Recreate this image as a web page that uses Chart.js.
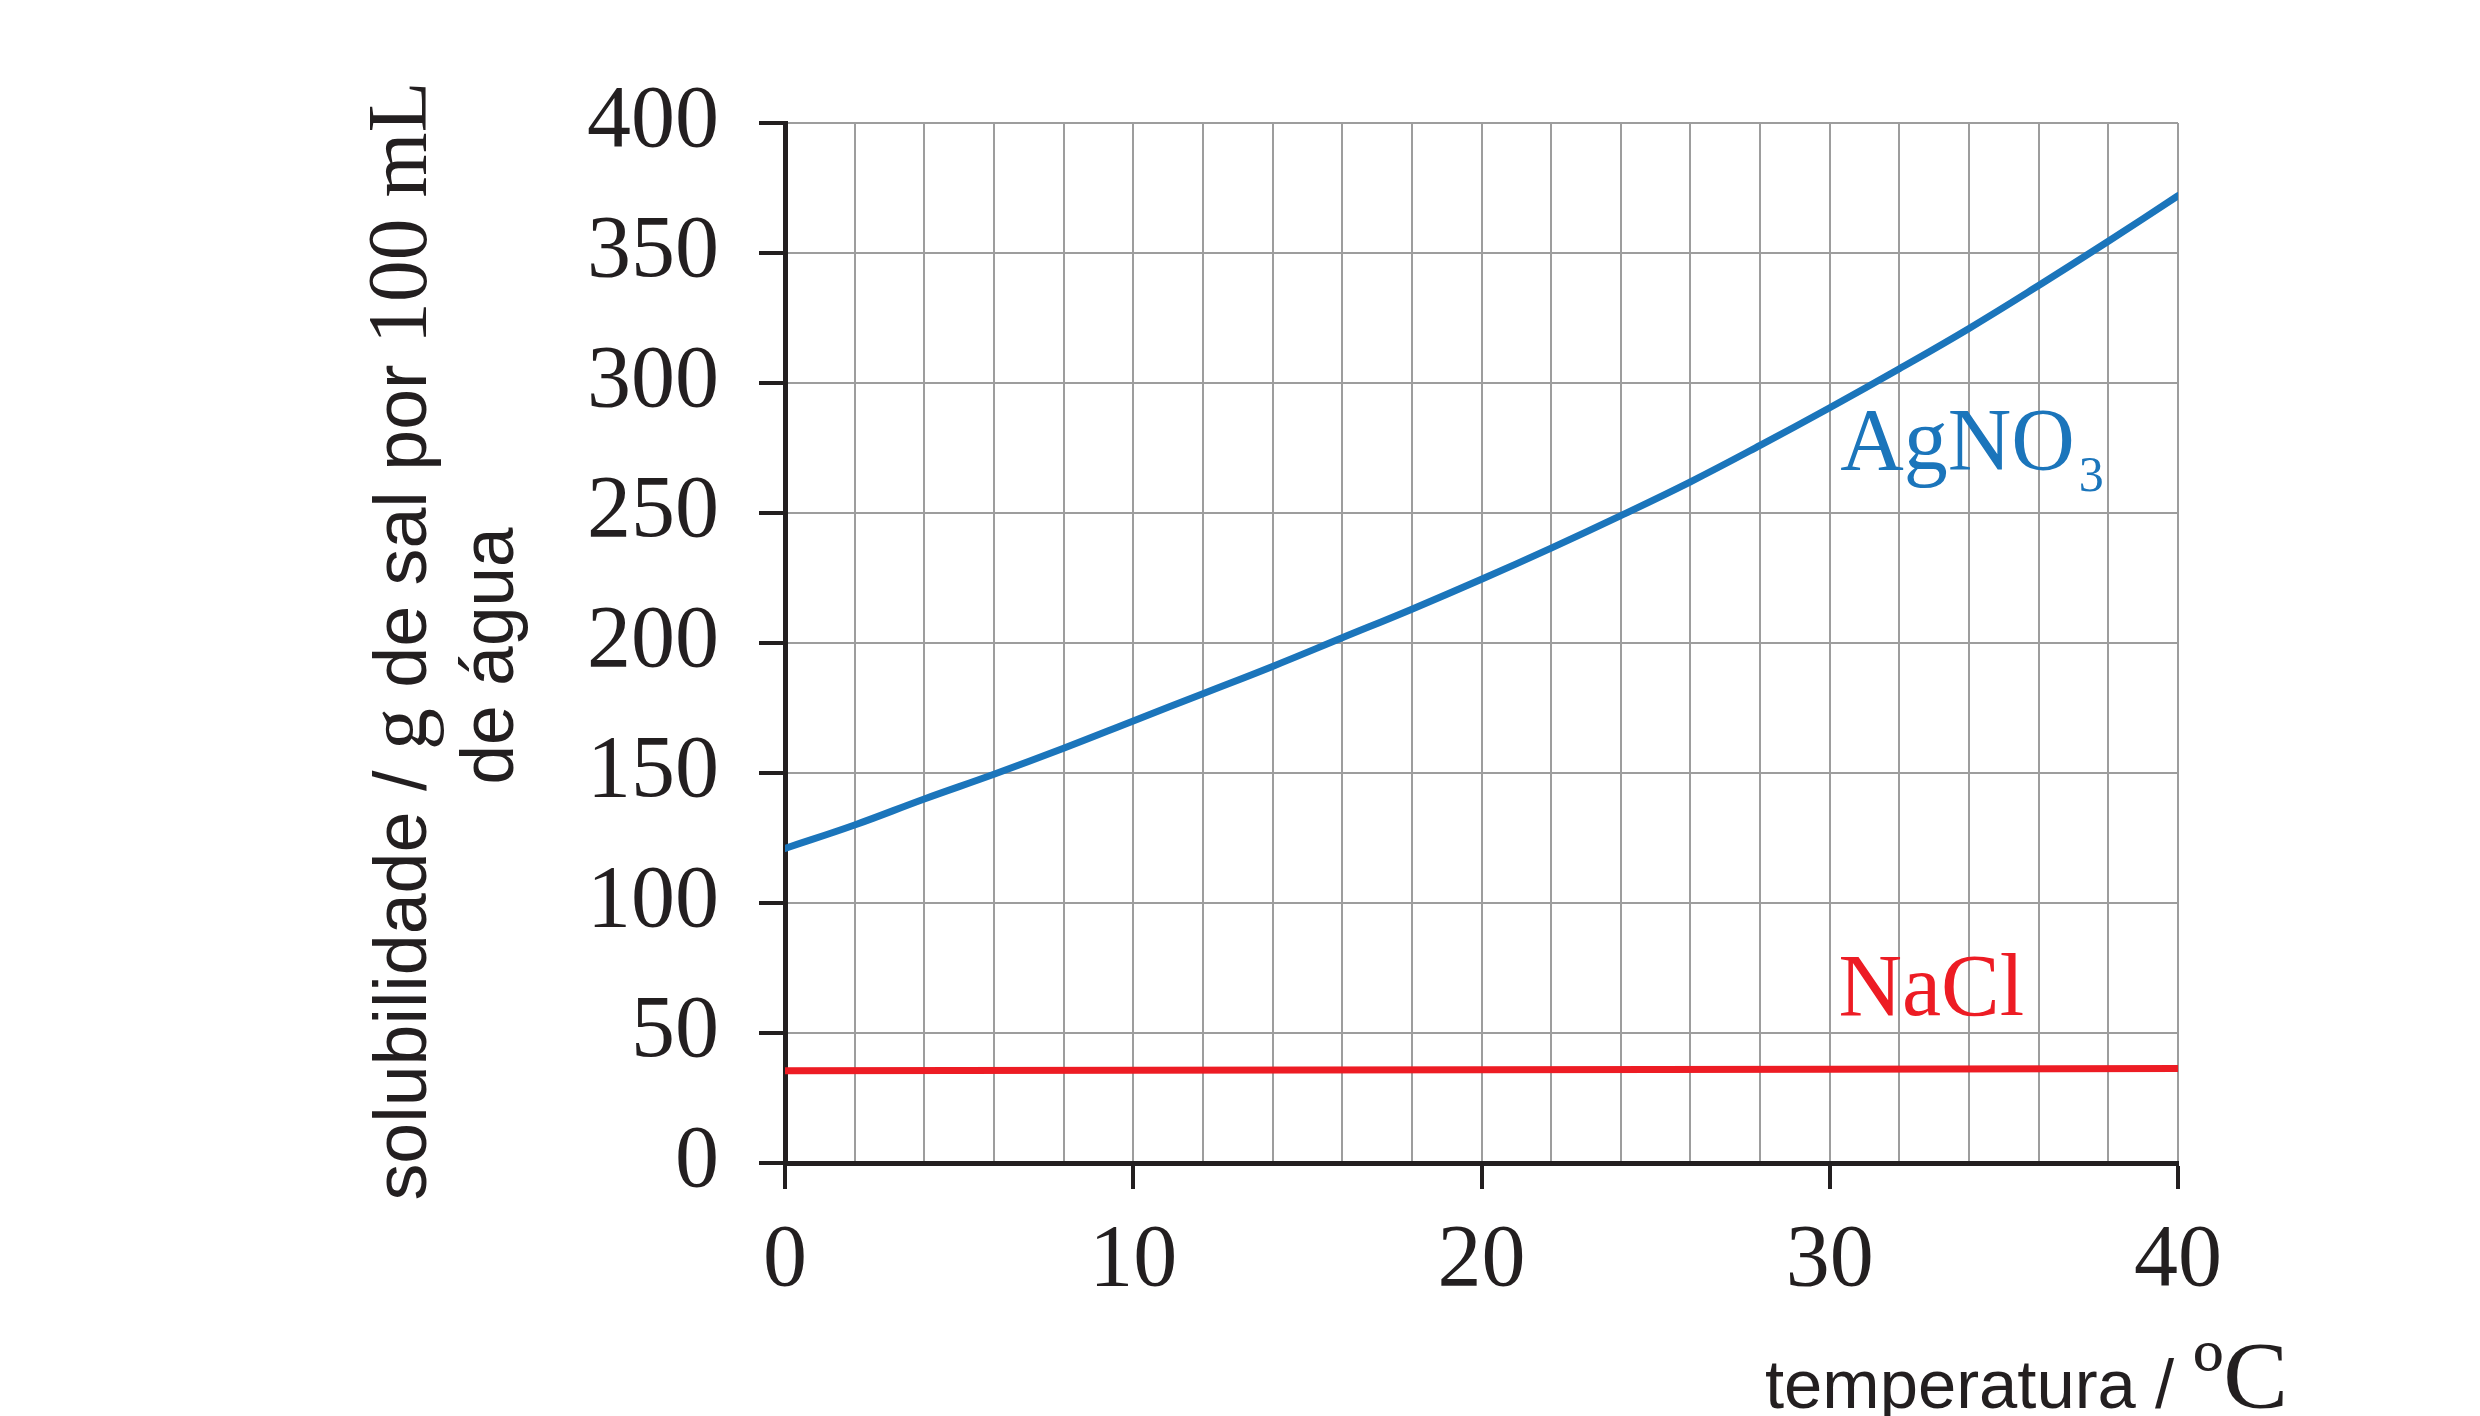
<!DOCTYPE html>
<html>
<head>
<meta charset="utf-8">
<script src="https://cdn.jsdelivr.net/npm/chart.js@4"></script>
<style>
  html, body { margin: 0; padding: 0; background: #fff; }
  canvas { display: block; }
</style>
</head>
<body>
<canvas id="solChart" width="2480" height="1416"></canvas>
<script>
const temps = [0, 2, 4, 6, 8, 10, 12, 14, 16, 18, 20, 22, 24, 26, 28, 30, 32, 34, 36, 38, 40];
const agno3 = [121, 130, 140, 149.5, 159.5, 170, 180.5, 191, 202, 213, 224.5, 236.5, 249, 262, 276, 290.5, 305.5, 321, 337.5, 354.5, 372];
const naclTemps = [0, 10, 20, 30, 40];
const nacl = [35.5, 35.7, 35.9, 36.1, 36.3];
const xTickLabels = [0, 10, 20, 30, 40];
const yTickLabels = [0, 50, 100, 150, 200, 250, 300, 350, 400];

const blue = '#1b75bb';
const red = '#ed1c24';
const ink = '#231f20';
const gridGray = '#9d9d9d';
const sans = '"Liberation Sans", Arial, sans-serif';
const serif = '"Liberation Serif", "Times New Roman", serif';

// draws a run of text pieces (mixed fonts) squeezed to a target length
function drawRun(ctx, pieces, len) {
  let natural = 0;
  pieces.forEach(p => { ctx.font = p.f; p.w = ctx.measureText(p.t).width; natural += p.w; });
  const k = len / natural;
  ctx.save();
  ctx.scale(k, 1);
  let cx = 0;
  pieces.forEach(p => { ctx.font = p.f; ctx.fillText(p.t, cx, 0); cx += p.w; });
  ctx.restore();
}

const textPlugin = {
  id: 'texts',
  afterDraw(chart) {
    const ctx = chart.ctx;
    const xs = chart.scales.x, ys = chart.scales.y;
    ctx.save();
    ctx.textAlign = 'left';
    ctx.textBaseline = 'alphabetic';

    // AgNO3 label
    ctx.fillStyle = blue;
    let lx = xs.getPixelForValue(30.3), ly = ys.getPixelForValue(267);
    ctx.font = '88px ' + serif;
    ctx.fillText('AgNO', lx, ly);
    const w = ctx.measureText('AgNO').width;
    ctx.font = '50px ' + serif;
    ctx.fillText('3', lx + w + 4, ly + 22);

    // NaCl label
    ctx.fillStyle = red;
    ctx.font = '88px ' + serif;
    ctx.fillText('NaCl', xs.getPixelForValue(30.25), ys.getPixelForValue(57));

    // x title
    ctx.fillStyle = ink;
    ctx.save();
    ctx.translate(1765, 1408);
    drawRun(ctx, [{t: 'temperatura / ', f: '68px ' + sans}, {t: 'ºC', f: '96px ' + serif}], 523);
    ctx.restore();

    // y title, two lines
    const line1 = [
      {t: 'solubilidade / ', f: '74px ' + sans},
      {t: 'g', f: '84px ' + serif},
      {t: ' de sal por ', f: '74px ' + sans},
      {t: '100 mL', f: '84px ' + serif}
    ];
    ctx.save();
    ctx.translate(426, 641 + 1119 / 2);
    ctx.rotate(-Math.PI / 2);
    drawRun(ctx, line1, 1119);
    ctx.restore();

    ctx.save();
    ctx.translate(513, 656 + 257 / 2);
    ctx.rotate(-Math.PI / 2);
    drawRun(ctx, [{t: 'de água', f: '74px ' + sans}], 257);
    ctx.restore();

    ctx.restore();
  }
};

const ctx = document.getElementById('solChart').getContext('2d');

const solChart = new Chart(ctx, {
  type: 'line',
  data: {
    datasets: [
      {
        label: 'AgNO3',
        data: temps.map((t, i) => ({x: t, y: agno3[i]})),
        borderColor: blue,
        borderWidth: 7,
        borderCapStyle: 'round',
        pointRadius: 0,
        tension: 0.4,
        fill: false
      },
      {
        label: 'NaCl',
        data: naclTemps.map((t, i) => ({x: t, y: nacl[i]})),
        borderColor: red,
        borderWidth: 7,
        borderCapStyle: 'round',
        pointRadius: 0,
        fill: false
      }
    ]
  },
  options: {
    responsive: false,
    devicePixelRatio: 1,
    animation: false,
    layout: { padding: { left: 0, right: 302, top: 123, bottom: 0 } },
    plugins: { legend: { display: false }, tooltip: { enabled: false } },
    scales: {
      x: {
        type: 'linear',
        min: 0,
        max: 40,
        afterFit: s => { s.height = 1416 - 1163; },
        ticks: {
          stepSize: 2,
          autoSkip: false,
          maxRotation: 0,
          padding: 20,
          color: ink,
          font: { family: serif, size: 88 },
          callback: v => xTickLabels.includes(v) ? String(v) : ''
        },
        grid: {
          color: gridGray,
          lineWidth: 2,
          tickLength: 26,
          tickWidth: 4,
          tickColor: c => (c.tick && xTickLabels.includes(c.tick.value)) ? ink : 'rgba(0,0,0,0)'
        },
        border: { color: ink, width: 5 }
      },
      y: {
        min: 0,
        max: 400,
        afterFit: s => { s.width = 785; },
        ticks: {
          stepSize: 50,
          padding: 40,
          color: ink,
          font: { family: serif, size: 88 },
          callback: v => yTickLabels.includes(v) ? String(v) : ''
        },
        grid: {
          color: gridGray,
          lineWidth: 2,
          tickLength: 26,
          tickWidth: 4,
          tickColor: ink
        },
        border: { color: ink, width: 5 }
      }
    }
  },
  plugins: [textPlugin]
});
</script>
</body>
</html>
